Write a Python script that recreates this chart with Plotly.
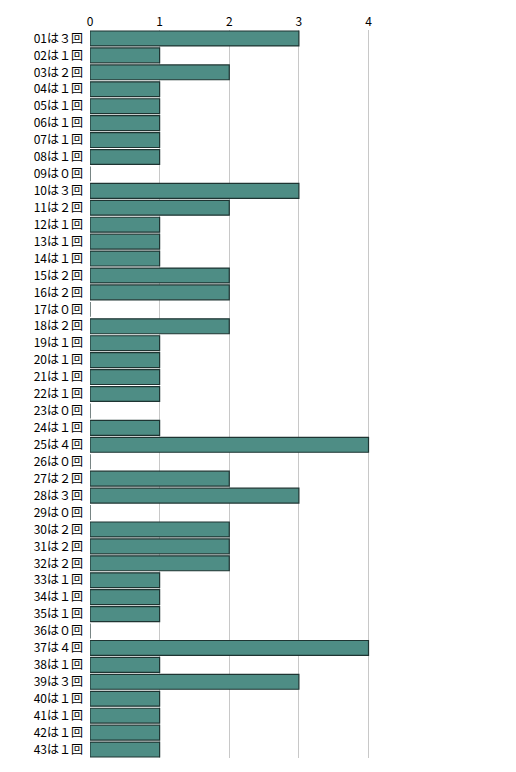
import plotly.graph_objects as go

numbers = [f"{i:02d}" for i in range(1, 44)]
counts = [3, 1, 2, 1, 1, 1, 1, 1, 0, 3,
          2, 1, 1, 1, 2, 2, 0, 2, 1, 1,
          1, 1, 0, 1, 4, 0, 2, 3, 0, 2,
          2, 2, 1, 1, 1, 0, 4, 1, 3, 1,
          1, 1, 1]
full_width = str.maketrans("0123456789", "０１２３４５６７８９")
labels = [f"{n}は{str(c).translate(full_width)}回" for n, c in zip(numbers, counts)]

fig = go.Figure(
    go.Bar(
        x=counts,
        y=labels,
        orientation="h",
        marker=dict(color="#4e8d85", line=dict(color="#1e3432", width=1.2)),
    )
)
fig.update_layout(
    width=516,
    height=772,
    margin=dict(l=82, r=152, t=22, b=22),
    paper_bgcolor="white",
    plot_bgcolor="white",
    showlegend=False,
    bargap=0.12,
    font=dict(family="Noto Sans CJK JP", size=12, color="#000000"),
    xaxis=dict(
        side="top",
        range=[0, 4.05],
        tickvals=[0, 1, 2, 3, 4],
        tickfont=dict(size=12),
        showgrid=True,
        gridcolor="#c8c8c8",
        zeroline=False,
        showline=False,
        ticks="",
        ticklabelstandoff=1,
        automargin=False,
    ),
    yaxis=dict(
        autorange="reversed",
        showgrid=False,
        showline=False,
        ticks="",
        ticklabelstandoff=6,
        automargin=False,
    ),
)
fig.write_html("out.html")
